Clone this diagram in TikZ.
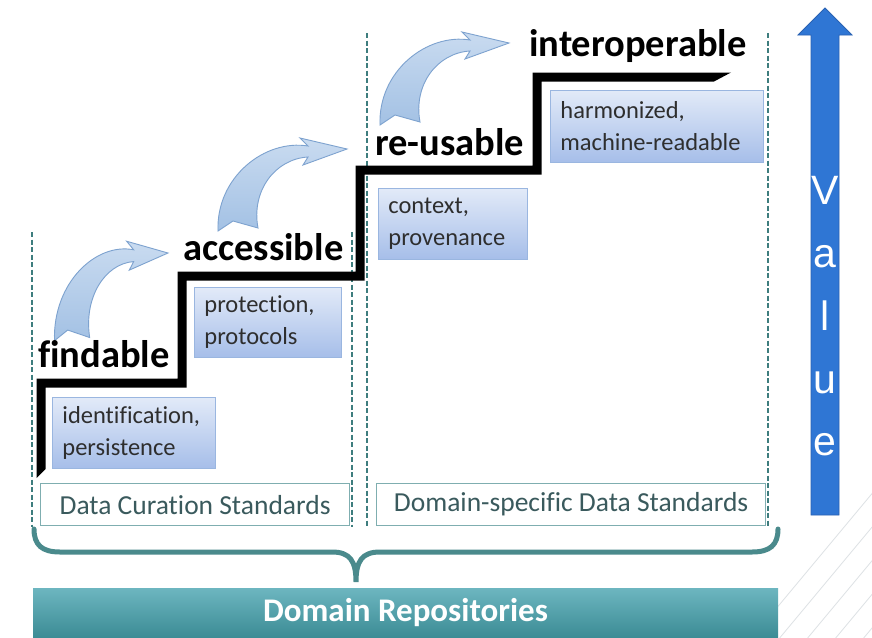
\documentclass[tikz,border=0pt]{standalone}
\usepackage{fontspec}
\setmainfont{Carlito}[Ligatures=NoCommon]
\newfontfamily\valuefont{Liberation Sans}
\definecolor{dashteal}{HTML}{3E7D7E}
\definecolor{boxtop}{HTML}{E2EAF8}
\definecolor{boxbot}{HTML}{A6BEE9}
\definecolor{boxedge}{HTML}{9AB6E0}
\definecolor{boxtext}{HTML}{2E2E2E}
\definecolor{stdedge}{HTML}{7FAEB0}
\definecolor{stdtext}{HTML}{3A5A5D}
\definecolor{arrowtop}{HTML}{C9DBF0}
\definecolor{arrowbot}{HTML}{A3C1E4}
\definecolor{arrowedge}{HTML}{7DA2CF}
\definecolor{valueblue}{HTML}{2F76D4}
\definecolor{valueedge}{HTML}{2A62B2}
\definecolor{bracecol}{HTML}{4A8A8C}
\definecolor{bartop}{HTML}{6DB6C0}
\definecolor{barbot}{HTML}{3C8C95}
\definecolor{decoline}{HTML}{DDE2E5}
\tikzset{
  word/.style={inner sep=0pt, anchor=base west, text=black,
    font=\bfseries\fontsize{38.5}{40}\selectfont},
  infobox/.style={draw=boxedge, line width=0.8pt, top color=boxtop, bottom color=boxbot,
    anchor=north west, inner xsep=10pt, inner ysep=0pt, align=left, text=boxtext,
    font=\fontsize{24.5}{32}\selectfont},
  stdbox/.style={draw=stdedge, line width=1.2pt, fill=white, anchor=north west,
    inner sep=0pt, align=center, text=stdtext, font=\fontsize{27.5}{30}\selectfont},
  sepline/.style={draw=dashteal, line width=1.6pt, dash pattern=on 5pt off 2.5pt},
  valueletter/.style={inner sep=0pt, anchor=base, text=white,
    font=\valuefont\fontsize{41}{41}\selectfont},
  bendarrow/.pic={
    \path[draw=arrowedge, line width=0.9pt, top color=arrowtop, bottom color=arrowbot]
      (0,0) -- (-47,-11) -- (-39,-3)
      .. controls (-82,-10) and (-131,28) .. (-129,82)
      -- (-114,72) -- (-89,79)
      .. controls (-96,42) and (-72,10) .. (-39,8)
      -- (-44,16) -- cycle;
  }
}
\begin{document}
\begin{tikzpicture}[x=1pt,y=-1pt]
  \useasboundingbox (0,0) rectangle (872,637);
  \fill[white] (0,0) rectangle (872,637);

  % faint diagonal lines of the slide background, lower right
  \begin{scope}
    \clip (775,455) rectangle (872,637);
    \foreach \s in {0,28,56,84,112,140}
      \draw[decoline, line width=0.8pt] (700+\s,700) -- (900+\s,460);
  \end{scope}

  % dashed separators
  \coordinate (s1t) at (32,232);  \coordinate (s1b) at (32,527);
  \coordinate (s2t) at (352,232); \coordinate (s2b) at (352,527);
  \coordinate (s3t) at (367,33);  \coordinate (s3b) at (367,527);
  \coordinate (s4t) at (768,33);  \coordinate (s4b) at (768,527);
  \draw[sepline] (s1t) -- (s1b);
  \draw[sepline] (s2t) -- (s2b);
  \draw[sepline] (s3t) -- (s3b);
  \draw[sepline] (s4t) -- (s4b);

  % curved step arrows
  \path (168,253) pic[xscale=0.88, yscale=1.07] {bendarrow};
  \path (347,149) pic {bendarrow};
  \path (509,43) pic {bendarrow};

  % staircase
  \fill[black]
    (36.5,478) -- (36.5,378.5) -- (177.5,378.5) -- (177.5,271.5)
    -- (355.5,271.5) -- (355.5,165.5) -- (532.5,165.5) -- (532.5,72.5)
    -- (731,72.5) -- (714,81.5) -- (541.5,81.5) -- (541.5,174.5)
    -- (364.5,174.5) -- (364.5,280.5) -- (186.5,280.5) -- (186.5,387.5)
    -- (45.5,387.5) -- (45.5,469) -- cycle;

  % step labels
  \node[word] (findable) at (38,367) {findable};
  \node[word] (accessible) at (183,260) {accessible};
  \node[word] (reusable) at (375,155) {re-usable};
  \node[word] (interop) at (529,56) {interoperable};

  % descriptions under each step
  \node[infobox, text width=143pt, minimum height=71pt] (ident) at (52,397)
    {identification,\\persistence};
  \node[infobox, text width=127pt, minimum height=70pt] (protect) at (194,287)
    {protection,\\protocols};
  \node[infobox, text width=129pt, minimum height=71pt] (context) at (378,188)
    {context,\\provenance};
  \node[infobox, text width=193pt, minimum height=72pt] (harmon) at (550,90)
    {harmonized,\\machine-readable};

  % standards
  \node[stdbox, minimum width=309pt, minimum height=42pt] (curation) at (40,483)
    {Data Curation Standards};
  \node[stdbox, minimum width=389pt, minimum height=42pt] (domainstd) at (376,483)
    {Domain-specific Data Standards};

  % brace
  \draw[bracecol, line width=5pt, line cap=round]
    (34,529) .. controls (34,545) and (42,552) .. (60,552) -- (332,552)
    .. controls (350,552) and (356,561) .. (356,582)
    .. controls (356,561) and (362,552) .. (380,552) -- (752,552)
    .. controls (770,552) and (778,545) .. (778,529);

  % repositories bar
  \path[top color=bartop, bottom color=barbot] (33,588) rectangle (778,637);
  \node[inner sep=0pt, anchor=base, text=white,
        font=\bfseries\fontsize{33}{36}\selectfont] (repo) at (405.5,621)
    {Domain Repositories};

  % value arrow
  \path[fill=valueblue, draw=valueedge, line width=0.8pt]
    (811,515) -- (811,35) -- (798,35) -- (825,8) -- (852,35) -- (839,35)
    -- (839,515) -- cycle;
  \node[valueletter] (vV) at (825,204) {V};
  \node[valueletter] (va) at (825,267) {a};
  \node[valueletter] (vl) at (825,330) {l};
  \node[valueletter] (vu) at (825,393) {u};
  \node[valueletter] (ve) at (825,455) {e};
\end{tikzpicture}
\end{document}
